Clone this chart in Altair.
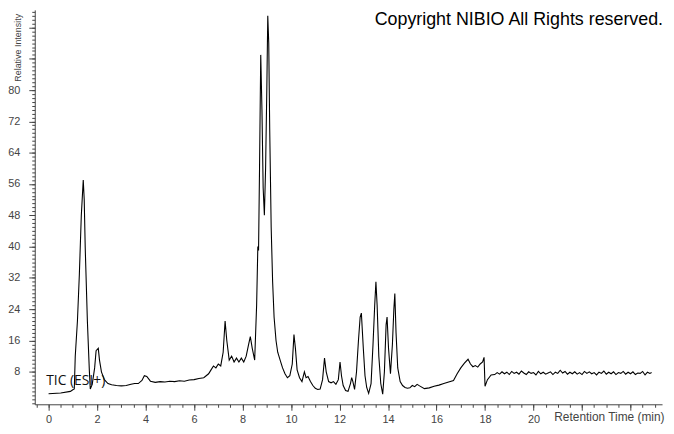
import altair as alt
import pandas as pd

# Retention time (min) and relative intensity
times = [
    0.0, 0.5, 0.9, 1.0, 1.06, 1.1, 1.19, 1.27, 1.35, 1.43, 1.47, 1.51, 1.6, 1.68, 1.72,
    1.8, 1.9, 1.96, 2.05, 2.1, 2.18, 2.3, 2.45, 2.6, 2.8, 3.0, 3.2, 3.4, 3.55, 3.7,
    3.85, 3.95, 4.05, 4.2, 4.4, 4.6, 4.8, 5.0, 5.2, 5.4, 5.6, 5.8, 6.0, 6.2, 6.4,
    6.5, 6.6, 6.7, 6.8, 6.9, 7.0, 7.1, 7.2, 7.28, 7.35, 7.45, 7.55, 7.65, 7.75, 7.85,
    7.95, 8.05, 8.15, 8.25, 8.32, 8.4, 8.5, 8.58, 8.63, 8.66, 8.7, 8.75, 8.8, 8.85, 8.9,
    8.95, 9.0, 9.04, 9.08, 9.12, 9.18, 9.24, 9.3, 9.38, 9.45, 9.55, 9.65, 9.75, 9.85, 9.95,
    10.05, 10.12, 10.18, 10.25, 10.35, 10.45, 10.55, 10.62, 10.7, 10.8, 10.9, 11.0, 11.1, 11.2, 11.3,
    11.38, 11.45, 11.55, 11.65, 11.75, 11.85, 11.95, 12.02, 12.08, 12.15, 12.25, 12.35, 12.45, 12.5, 12.55,
    12.62, 12.7, 12.78, 12.85, 12.9, 12.98, 13.05, 13.12, 13.2, 13.3, 13.38, 13.45, 13.5, 13.55, 13.62,
    13.7, 13.78, 13.85, 13.92, 13.96, 14.02, 14.1, 14.18, 14.24, 14.28, 14.33, 14.4, 14.5, 14.6, 14.7,
    14.8, 14.9, 15.0, 15.1, 15.2, 15.3, 15.5, 15.7, 15.9, 16.1, 16.3, 16.5, 16.7, 16.85, 17.0,
    17.15, 17.3, 17.4, 17.5, 17.6, 17.7, 17.8, 17.9, 17.96, 18.0, 18.1, 18.25, 18.4, 18.5, 18.6,
    18.7, 18.8, 18.9, 19.0, 19.1, 19.2, 19.3, 19.4, 19.5, 19.6, 19.7, 19.8, 19.9, 20.0, 20.1,
    20.2, 20.3, 20.4, 20.5, 20.6, 20.7, 20.8, 20.9, 21.0, 21.1, 21.2, 21.3, 21.4, 21.5, 21.6,
    21.7, 21.8, 21.9, 22.0, 22.1, 22.2, 22.3, 22.4, 22.5, 22.6, 22.7, 22.8, 22.9, 23.0, 23.1,
    23.2, 23.3, 23.4, 23.5, 23.6, 23.7, 23.8, 23.9, 24.0, 24.1, 24.2, 24.3, 24.4, 24.5, 24.6,
    24.7, 24.8, 24.87,
]
intensity = [
    2.4, 2.6, 3.0, 3.4, 3.6, 12.0, 21.0, 33.0, 48.0, 57.0, 52.0, 40.0, 21.0, 8.5, 3.6,
    4.8, 9.0, 13.4, 14.0, 11.0, 8.0, 6.0, 5.0, 4.7, 4.5, 4.4, 4.5, 4.8, 5.0, 5.0,
    5.8, 7.0, 6.8, 5.6, 5.3, 5.5, 5.4, 5.6, 5.5, 5.7, 5.6, 5.9, 6.0, 6.3, 6.5,
    7.0, 7.5, 8.5, 9.5, 9.0, 10.0, 9.5, 13.0, 21.0, 16.0, 11.0, 12.0, 10.5, 11.5, 10.5,
    11.5, 10.5, 12.0, 15.0, 17.0, 14.0, 11.0, 25.0, 40.0, 39.0, 60.0, 89.0, 75.0, 55.0, 48.0,
    60.0, 80.0, 99.0, 92.0, 70.0, 45.0, 31.0, 22.0, 16.0, 13.0, 11.0, 9.0, 7.5, 6.5, 7.0,
    10.0, 17.5, 14.0, 8.5, 6.5, 5.5, 8.0, 6.5, 6.8, 5.5, 4.5, 3.8, 3.5, 3.6, 6.0,
    11.5, 8.0, 5.5, 5.2, 5.5, 4.8, 6.0, 10.5, 7.0, 4.5, 3.2, 3.0, 5.0, 6.5, 5.5,
    3.5, 8.0, 16.0, 22.0, 23.0, 14.0, 7.0, 4.0, 2.5, 5.0, 15.0, 25.0, 31.0, 25.0, 12.0,
    5.0, 2.3, 8.0, 20.0, 22.0, 14.0, 7.5, 15.0, 24.0, 28.0, 18.0, 9.0, 5.5, 4.5, 4.0,
    3.8, 3.9, 4.5, 4.2, 4.8, 4.4, 3.7, 3.9, 4.3, 4.6, 5.0, 5.4, 5.8, 7.5, 9.0,
    10.2, 11.2, 10.0, 9.3, 9.6, 9.2, 10.0, 10.5, 11.7, 4.3, 6.0, 7.2, 7.3, 7.8, 7.4,
    8.0, 7.5, 7.9, 7.3, 8.1, 7.6, 7.9, 7.4, 8.2, 7.7, 7.3, 8.0, 7.6, 7.8, 7.2,
    8.1, 7.5, 7.9, 7.4, 7.7, 8.0, 7.3, 7.9, 7.6, 8.4, 7.7, 8.1, 7.4, 7.9, 7.5,
    8.0, 7.4, 7.8, 7.3, 8.1, 7.6, 8.0, 7.5, 7.8, 7.2, 7.9, 7.6, 8.2, 7.4, 7.9,
    7.5, 8.0, 7.3, 7.8, 7.6, 8.1, 7.4, 7.9, 7.5, 8.0, 7.3, 7.7, 7.6, 8.1, 7.2,
    7.9, 7.6, 7.8,
]

x_major = [0, 2, 4, 6, 8, 10, 12, 14, 16, 18, 20, 22, 24]
x_minor = [i * 0.5 for i in range(-1, 51)]
y_major = [8, 16, 24, 32, 40, 48, 56, 64, 72, 80, 88, 96]
y_minor = list(range(0, 101))

df = pd.DataFrame({"t": times, "v": intensity})

xscale = alt.Scale(domain=[-0.57, 25.3], nice=False, zero=False)
yscale = alt.Scale(domain=[-0.3, 100.5], nice=False, zero=False)

FONT = "Liberation Sans"
GRAY = "#444444"

line = alt.Chart(df).mark_line(color="black", strokeWidth=1.1, clip=True).encode(
    x=alt.X("t:Q", scale=xscale, axis=alt.Axis(
        orient="bottom", values=x_major, grid=False,
        labelExpr="datum.value <= 20 ? datum.label : ''",
        tickSize=6, tickColor=GRAY, domainColor=GRAY, labelColor=GRAY,
        labelFont=FONT, labelFontSize=11, labelPadding=3, labelFlush=False,
        title="Retention Time (min)", titleFont=FONT, titleFontSize=12,
        titleFontWeight="normal", titleColor=GRAY,
        titleX=635, titleY=16, titleAlign="right", titleBaseline="alphabetic")),
    y=alt.Y("v:Q", scale=yscale, axis=alt.Axis(
        orient="left", values=y_major, grid=False,
        labelExpr="datum.value <= 80 ? datum.label : ''",
        tickSize=6, tickColor=GRAY, domainColor=GRAY, labelColor=GRAY,
        labelFont=FONT, labelFontSize=11, labelPadding=9,
        title="Relative Intensity", titleFont=FONT, titleFontSize=9,
        titleFontWeight="normal", titleColor=GRAY, titleAngle=270,
        titleX=-17, titleY=72, titleAlign="left", titleBaseline="middle")),
)

minor = alt.Chart(df).mark_point(opacity=0).encode(
    x=alt.X("t:Q", scale=xscale, axis=alt.Axis(
        orient="bottom", values=x_minor, labels=False, domain=False, grid=False,
        tickSize=3, tickColor=GRAY, title=None)),
    y=alt.Y("v:Q", scale=yscale, axis=alt.Axis(
        orient="left", values=y_minor, labels=False, domain=False, grid=False,
        tickSize=3, tickColor=GRAY, title=None)),
)

tic = alt.Chart(pd.DataFrame({"t": [-0.1], "v": [5.6], "label": ["TIC (ESI+)"]})).mark_text(
    align="left", baseline="middle", font="Open Sans", fontSize=14, color="#111111"
).encode(
    x=alt.X("t:Q", scale=xscale, axis=None),
    y=alt.Y("v:Q", scale=yscale, axis=None),
    text="label:N",
)

copyright_txt = alt.Chart(pd.DataFrame({"label": ["Copyright NIBIO All Rights reserved."]})).mark_text(
    align="right", baseline="top", font=FONT, fontSize=18, color="black"
).encode(
    x=alt.value(634), y=alt.value(1), text="label:N",
)

chart = alt.layer(line, minor, tic, copyright_txt).resolve_axis(
    x="independent", y="independent"
).properties(
    width=633, height=398,
    autosize=alt.AutoSizeParams(type="none"),
    padding={"left": 27, "top": 0, "right": 4, "bottom": 20},
).configure_view(stroke=None)

chart.save("out.html", embed_options={"renderer": "svg", "actions": False})
